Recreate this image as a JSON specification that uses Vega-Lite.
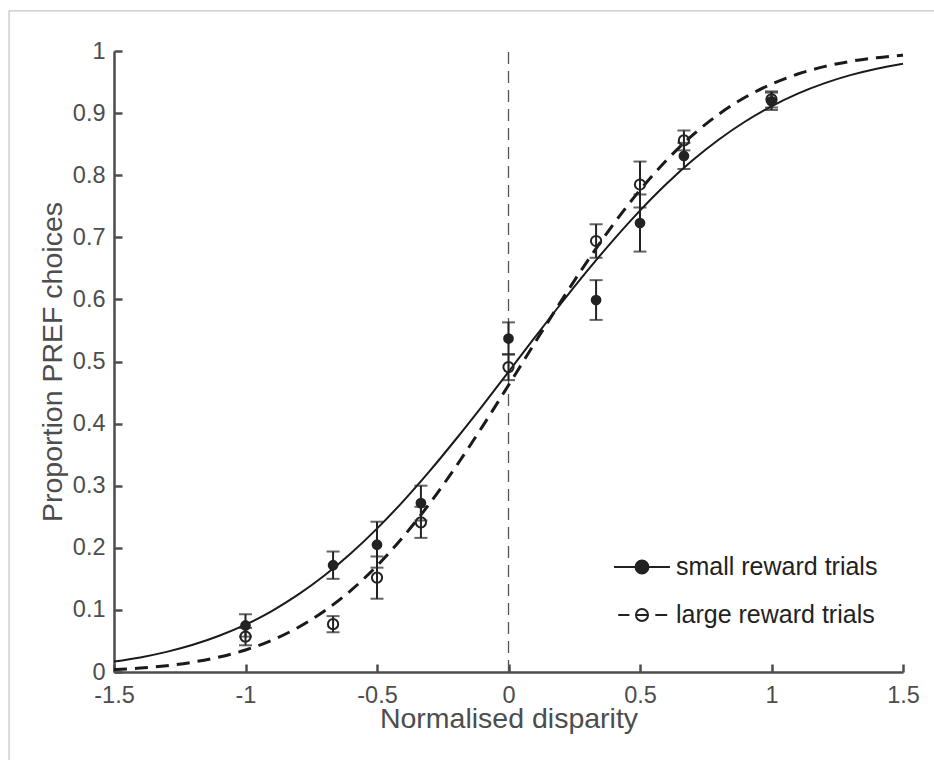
{
  "$schema": "https://vega.github.io/schema/vega-lite/v6.json",
  "width": 789,
  "height": 621,
  "autosize": {"type": "none"},
  "padding": {"left": 114, "top": 51, "right": 31, "bottom": 88},
  "background": "white",
  "config": {
    "view": {"stroke": null},
    "font": "Liberation Sans",
    "axis": {
      "domainColor": "#4d4d4d",
      "domainWidth": 2.5,
      "tickColor": "#4d4d4d",
      "tickWidth": 2.5,
      "tickSize": -8,
      "labelColor": "#4d4d4d",
      "labelFontSize": 23.5,
      "labelFont": "Liberation Sans",
      "titleFont": "Liberation Sans",
      "titleColor": "#4d4d4d",
      "titleFontSize": 28.5,
      "titleFontWeight": "normal",
      "grid": false,
      "labelFlush": false,
      "labelOverlap": false
    }
  },
  "datasets": {
    "points": [
      {"group": "small reward trials", "x": -1, "y": 0.075, "lo": 0.057, "hi": 0.093},
      {"group": "small reward trials", "x": -0.667, "y": 0.172, "lo": 0.15, "hi": 0.194},
      {"group": "small reward trials", "x": -0.5, "y": 0.205, "lo": 0.168, "hi": 0.242},
      {"group": "small reward trials", "x": -0.333, "y": 0.272, "lo": 0.244, "hi": 0.3},
      {"group": "small reward trials", "x": 0, "y": 0.537, "lo": 0.511, "hi": 0.563},
      {"group": "small reward trials", "x": 0.333, "y": 0.599, "lo": 0.567, "hi": 0.631},
      {"group": "small reward trials", "x": 0.5, "y": 0.723, "lo": 0.677, "hi": 0.769},
      {"group": "small reward trials", "x": 0.667, "y": 0.831, "lo": 0.81, "hi": 0.852},
      {"group": "small reward trials", "x": 1, "y": 0.919, "lo": 0.905, "hi": 0.933},
      {"group": "large reward trials", "x": -1, "y": 0.057, "lo": 0.043, "hi": 0.071},
      {"group": "large reward trials", "x": -0.667, "y": 0.077, "lo": 0.064, "hi": 0.09},
      {"group": "large reward trials", "x": -0.5, "y": 0.152, "lo": 0.118, "hi": 0.186},
      {"group": "large reward trials", "x": -0.333, "y": 0.241, "lo": 0.216, "hi": 0.266},
      {"group": "large reward trials", "x": 0, "y": 0.491, "lo": 0.47, "hi": 0.512},
      {"group": "large reward trials", "x": 0.333, "y": 0.694, "lo": 0.667, "hi": 0.721},
      {"group": "large reward trials", "x": 0.5, "y": 0.785, "lo": 0.748, "hi": 0.822},
      {"group": "large reward trials", "x": 0.667, "y": 0.856, "lo": 0.84, "hi": 0.872},
      {"group": "large reward trials", "x": 1, "y": 0.922, "lo": 0.909, "hi": 0.935}
    ],
    "curves": [
      {"curve": "small", "x": -1.5, "y": 0.0168}, {"curve": "small", "x": -1.4, "y": 0.0235},
      {"curve": "small", "x": -1.3, "y": 0.0324}, {"curve": "small", "x": -1.2, "y": 0.0438},
      {"curve": "small", "x": -1.1, "y": 0.0583}, {"curve": "small", "x": -1.0, "y": 0.0762},
      {"curve": "small", "x": -0.9, "y": 0.0982}, {"curve": "small", "x": -0.8, "y": 0.1245},
      {"curve": "small", "x": -0.7, "y": 0.1553}, {"curve": "small", "x": -0.6, "y": 0.1908},
      {"curve": "small", "x": -0.5, "y": 0.2309}, {"curve": "small", "x": -0.4, "y": 0.2752},
      {"curve": "small", "x": -0.3, "y": 0.3234}, {"curve": "small", "x": -0.2, "y": 0.3748},
      {"curve": "small", "x": -0.1, "y": 0.4282}, {"curve": "small", "x": 0.0, "y": 0.4833},
      {"curve": "small", "x": 0.1, "y": 0.5387}, {"curve": "small", "x": 0.2, "y": 0.5934},
      {"curve": "small", "x": 0.3, "y": 0.6462}, {"curve": "small", "x": 0.4, "y": 0.6963},
      {"curve": "small", "x": 0.5, "y": 0.743}, {"curve": "small", "x": 0.6, "y": 0.7858},
      {"curve": "small", "x": 0.7, "y": 0.824}, {"curve": "small", "x": 0.8, "y": 0.8575},
      {"curve": "small", "x": 0.9, "y": 0.8865}, {"curve": "small", "x": 1.0, "y": 0.911},
      {"curve": "small", "x": 1.1, "y": 0.9314}, {"curve": "small", "x": 1.2, "y": 0.9479},
      {"curve": "small", "x": 1.3, "y": 0.9611}, {"curve": "small", "x": 1.4, "y": 0.9715},
      {"curve": "small", "x": 1.5, "y": 0.9794},
      {"curve": "large", "x": -1.5, "y": 0.0039}, {"curve": "large", "x": -1.4, "y": 0.0064},
      {"curve": "large", "x": -1.3, "y": 0.0102}, {"curve": "large", "x": -1.2, "y": 0.0159},
      {"curve": "large", "x": -1.1, "y": 0.0241}, {"curve": "large", "x": -1.0, "y": 0.0355},
      {"curve": "large", "x": -0.9, "y": 0.0511}, {"curve": "large", "x": -0.8, "y": 0.0717},
      {"curve": "large", "x": -0.7, "y": 0.0982}, {"curve": "large", "x": -0.6, "y": 0.1311},
      {"curve": "large", "x": -0.5, "y": 0.171}, {"curve": "large", "x": -0.4, "y": 0.2179},
      {"curve": "large", "x": -0.3, "y": 0.2713}, {"curve": "large", "x": -0.2, "y": 0.3307},
      {"curve": "large", "x": -0.1, "y": 0.3948}, {"curve": "large", "x": 0.0, "y": 0.4618},
      {"curve": "large", "x": 0.1, "y": 0.5299}, {"curve": "large", "x": 0.2, "y": 0.5972},
      {"curve": "large", "x": 0.3, "y": 0.6617}, {"curve": "large", "x": 0.4, "y": 0.7217},
      {"curve": "large", "x": 0.5, "y": 0.7761}, {"curve": "large", "x": 0.6, "y": 0.8238},
      {"curve": "large", "x": 0.7, "y": 0.8645}, {"curve": "large", "x": 0.8, "y": 0.8983},
      {"curve": "large", "x": 0.9, "y": 0.9255}, {"curve": "large", "x": 1.0, "y": 0.9467},
      {"curve": "large", "x": 1.1, "y": 0.9629}, {"curve": "large", "x": 1.2, "y": 0.9748},
      {"curve": "large", "x": 1.3, "y": 0.9833}, {"curve": "large", "x": 1.4, "y": 0.9892},
      {"curve": "large", "x": 1.5, "y": 0.9932}
    ],
    "legendrows": [
      {"group": "small reward trials"},
      {"group": "large reward trials"}
    ]
  },
  "layer": [
    {
      "data": {"name": "curves"},
      "transform": [{"filter": "datum.curve === 'small'"}],
      "mark": {"type": "line", "color": "#1a1a1a", "strokeWidth": 2, "interpolate": "monotone"},
      "encoding": {
        "x": {"field": "x", "type": "quantitative", "scale": {"domain": [-1.5, 1.5], "nice": false, "zero": false},
          "title": "Normalised disparity",
          "axis": {"values": [-1.5, -1, -0.5, 0, 0.5, 1, 1.5], "labelExpr": "replace(format(datum.value, '~g'), '\u2212', '-')", "labelPadding": 19, "titlePadding": -2}},
        "y": {"field": "y", "type": "quantitative", "scale": {"domain": [0, 1], "nice": false, "zero": false},
          "title": "Proportion PREF choices",
          "axis": {"values": [0, 0.1, 0.2, 0.3, 0.4, 0.5, 0.6, 0.7, 0.8, 0.9, 1], "format": "~g", "labelPadding": 17, "titlePadding": 5}}
      }
    },
    {
      "data": {"values": [{}]},
      "mark": {"type": "rule", "color": "#c4c4c4", "strokeWidth": 1.2},
      "encoding": {
        "x": {"datum": -1.9, "type": "quantitative", "scale": {"domain": [-1.5, 1.5], "nice": false, "zero": false}, "title": "Normalised disparity"},
        "x2": {"datum": 1.9},
        "y": {"datum": 1.0645, "type": "quantitative", "scale": {"domain": [0, 1], "nice": false, "zero": false}, "title": "Proportion PREF choices"}
      }
    },
    {
      "data": {"values": [{}]},
      "mark": {"type": "rule", "color": "#c4c4c4", "strokeWidth": 1.2},
      "encoding": {
        "x": {"datum": -1.899, "type": "quantitative", "scale": {"domain": [-1.5, 1.5], "nice": false, "zero": false}, "title": "Normalised disparity"},
        "y": {"datum": -0.3, "type": "quantitative", "scale": {"domain": [0, 1], "nice": false, "zero": false}, "title": "Proportion PREF choices"},
        "y2": {"datum": 1.0645}
      }
    },
    {
      "data": {"values": [{}]},
      "mark": {"type": "rule", "color": "#555555", "strokeWidth": 1.3, "strokeDash": [12, 7]},
      "encoding": {
        "x": {"datum": 0, "type": "quantitative", "scale": {"domain": [-1.5, 1.5], "nice": false, "zero": false}, "title": "Normalised disparity"},
        "y": {"datum": 0, "type": "quantitative", "scale": {"domain": [0, 1], "nice": false, "zero": false}, "title": "Proportion PREF choices"},
        "y2": {"datum": 1}
      }
    },
    {
      "data": {"name": "curves"},
      "transform": [{"filter": "datum.curve === 'large'"}],
      "mark": {"type": "line", "color": "#1a1a1a", "strokeWidth": 3, "strokeDash": [13, 8], "interpolate": "monotone"},
      "encoding": {
        "x": {"field": "x", "type": "quantitative", "scale": {"domain": [-1.5, 1.5], "nice": false, "zero": false}, "title": "Normalised disparity"},
        "y": {"field": "y", "type": "quantitative", "scale": {"domain": [0, 1], "nice": false, "zero": false}, "title": "Proportion PREF choices"}
      }
    },
    {
      "data": {"name": "points"},
      "mark": {"type": "rule", "color": "#222222", "strokeWidth": 2},
      "encoding": {
        "x": {"field": "x", "type": "quantitative", "scale": {"domain": [-1.5, 1.5], "nice": false, "zero": false}, "title": "Normalised disparity"},
        "y": {"field": "lo", "type": "quantitative", "scale": {"domain": [0, 1], "nice": false, "zero": false}, "title": "Proportion PREF choices"},
        "y2": {"field": "hi"}
      }
    },
    {
      "data": {"name": "points"},
      "mark": {"type": "tick", "orient": "horizontal", "color": "#222222", "size": 13, "thickness": 2},
      "encoding": {
        "x": {"field": "x", "type": "quantitative", "scale": {"domain": [-1.5, 1.5], "nice": false, "zero": false}, "title": "Normalised disparity"},
        "y": {"field": "lo", "type": "quantitative", "scale": {"domain": [0, 1], "nice": false, "zero": false}, "title": "Proportion PREF choices"}
      }
    },
    {
      "data": {"name": "points"},
      "mark": {"type": "tick", "orient": "horizontal", "color": "#222222", "size": 13, "thickness": 2},
      "encoding": {
        "x": {"field": "x", "type": "quantitative", "scale": {"domain": [-1.5, 1.5], "nice": false, "zero": false}, "title": "Normalised disparity"},
        "y": {"field": "hi", "type": "quantitative", "scale": {"domain": [0, 1], "nice": false, "zero": false}, "title": "Proportion PREF choices"}
      }
    },
    {
      "data": {"name": "points"},
      "transform": [{"filter": "datum.group === 'small reward trials'"}],
      "mark": {"type": "point", "shape": "circle", "filled": true, "color": "#222222", "size": 115, "opacity": 1},
      "encoding": {
        "x": {"field": "x", "type": "quantitative", "scale": {"domain": [-1.5, 1.5], "nice": false, "zero": false}, "title": "Normalised disparity"},
        "y": {"field": "y", "type": "quantitative", "scale": {"domain": [0, 1], "nice": false, "zero": false}, "title": "Proportion PREF choices"}
      }
    },
    {
      "data": {"name": "points"},
      "transform": [{"filter": "datum.group === 'large reward trials'"}],
      "mark": {"type": "point", "shape": "circle", "filled": false, "color": "#222222", "strokeWidth": 2, "size": 105, "opacity": 1},
      "encoding": {
        "x": {"field": "x", "type": "quantitative", "scale": {"domain": [-1.5, 1.5], "nice": false, "zero": false}, "title": "Normalised disparity"},
        "y": {"field": "y", "type": "quantitative", "scale": {"domain": [0, 1], "nice": false, "zero": false}, "title": "Proportion PREF choices"}
      }
    },
    {
      "data": {"name": "legendrows"},
      "mark": {"type": "point", "filled": true, "strokeWidth": 2, "opacity": 1},
      "encoding": {
        "x": {"field": "x", "type": "quantitative", "scale": {"domain": [-1.5, 1.5], "nice": false, "zero": false}, "title": "Normalised disparity"},
        "y": {"field": "y", "type": "quantitative", "scale": {"domain": [0, 1], "nice": false, "zero": false}, "title": "Proportion PREF choices"},
        "shape": {
          "field": "group", "type": "nominal",
          "scale": {"domain": ["small reward trials", "large reward trials"],
            "range": ["M-2,0H2M0.46,0A0.46,0.46,0,1,1,-0.46,0A0.46,0.46,0,1,1,0.46,0Z",
                      "M-1.7,0H-0.9M0.43,0A0.43,0.43,0,1,1,-0.43,0A0.43,0.43,0,1,1,0.43,0M-0.43,0H0.43M0.95,0H1.8"]},
          "legend": {"orient": "none", "legendX": 513, "legendY": 501, "title": null, "padding": 0,
            "symbolSize": 784, "symbolStrokeWidth": 2, "symbolOpacity": 1,
            "labelFontSize": 25, "labelColor": "#222222", "labelFont": "Liberation Sans", "labelLimit": 400,
            "labelOffset": 19, "rowPadding": 20}
        },
        "fill": {
          "field": "group", "type": "nominal",
          "scale": {"domain": ["small reward trials", "large reward trials"], "range": ["#222222", "rgba(0,0,0,0)"]},
          "legend": {"orient": "none", "legendX": 513, "legendY": 501, "title": null, "padding": 0,
            "symbolSize": 784, "symbolStrokeWidth": 2, "symbolOpacity": 1,
            "labelFontSize": 25, "labelColor": "#222222", "labelFont": "Liberation Sans", "labelLimit": 400,
            "labelOffset": 19, "rowPadding": 20}
        },
        "stroke": {
          "field": "group", "type": "nominal",
          "scale": {"domain": ["small reward trials", "large reward trials"], "range": ["#222222", "#222222"]},
          "legend": {"orient": "none", "legendX": 513, "legendY": 501, "title": null, "padding": 0,
            "symbolSize": 784, "symbolStrokeWidth": 2, "symbolOpacity": 1,
            "labelFontSize": 25, "labelColor": "#222222", "labelFont": "Liberation Sans", "labelLimit": 400,
            "labelOffset": 19, "rowPadding": 20}
        }
      }
    }
  ]
}
